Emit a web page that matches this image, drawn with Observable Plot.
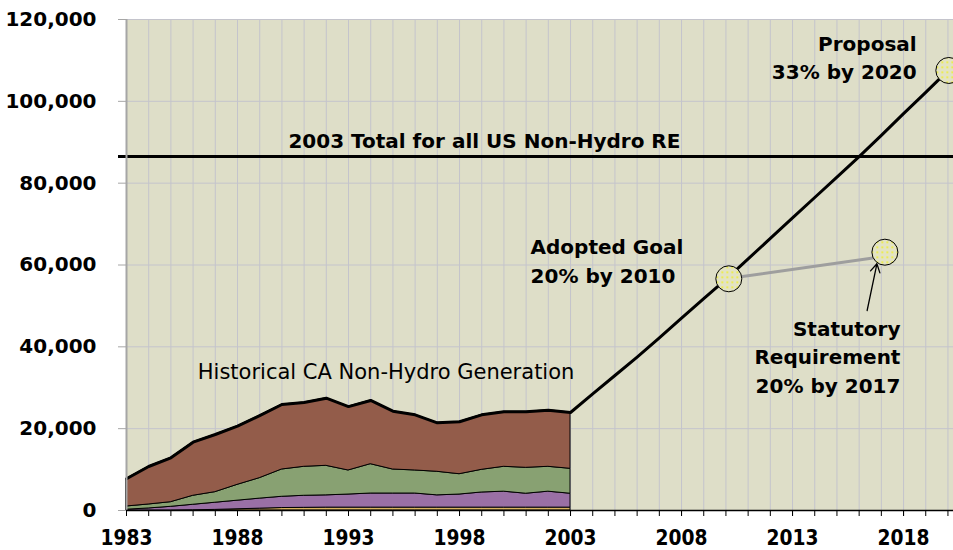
<!DOCTYPE html>
<html><head><meta charset="utf-8">
<script src="https://cdn.jsdelivr.net/npm/d3@7"></script>
<script src="https://cdn.jsdelivr.net/npm/@observablehq/plot@0.6"></script>
<style>
html,body{margin:0;padding:0;background:#fff;}
#chart{width:953px;height:550px;overflow:hidden;}
</style></head><body><div id="chart"></div>
<script>
// ---- Data (GWh) ----
const histYears = [1983,1984,1985,1986,1987,1988,1989,1990,1991,1992,1993,1994,1995,1996,1997,1998,1999,2000,2001,2002,2003];
const solar      = [0,0,0,50,150,300,450,600,650,700,700,700,700,700,700,700,700,700,700,700,700];
const wind       = [200,500,900,1350,1750,2100,2450,2750,2950,3000,3200,3450,3450,3450,3000,3200,3700,3900,3400,3900,3400];
const biomass    = [780,970,1130,2190,2580,3870,5000,6670,7080,7220,5880,7170,5870,5630,5760,4970,5540,6080,6330,6080,6090];
const geothermal = [6770,9280,10850,13110,14090,14330,15300,15880,15720,16530,15620,15580,14250,13600,11970,12810,13440,13440,13690,13840,13760];
const layerNames  = ["Solar","Wind","Biomass","Geothermal"];
const layerColors = ["#D9B35F","#9A70A5","#88A172","#935C4A"];

const projYears  = [2004,2005,2006,2007,2008,2009,2010,2011,2012,2013,2014,2015,2016,2017,2018,2019,2020];
const projValues = [28500,33000,37500,42200,47000,51800,56500,61500,66500,71500,76500,81500,86500,91700,97000,102200,107500];

const usTotal2003 = 86500;

const statutoryYears  = [2010.1, 2017.1];
const statutoryValues = [56700, 62100];

const targetYears  = [2010.13, 2017.16, 2020.04];
const targetValues = [56630, 63130, 107540];

const yTicks = [0,20000,40000,60000,80000,100000,120000];
const allYears = [1983,1984,1985,1986,1987,1988,1989,1990,1991,1992,1993,1994,1995,1996,1997,1998,1999,2000,2001,2002,2003,2004,2005,2006,2007,2008,2009,2010,2011,2012,2013,2014,2015,2016,2017,2018,2019,2020];
const xLabelYears = [1983,1988,1993,1998,2003,2008,2013,2018];

// annotations
const endLabels    = [
  {text: "Proposal\n33% by 2020", x: 2018.59, y: 111100},
  {text: "Statutory\nRequirement\n20% by 2017", x: 2017.86, y: 37980}
];
const middleLabels = [{text: "2003 Total for all US Non-Hydro RE", x: 1999.12, y: 90770}];
const startLabels  = [{text: "Adopted Goal\n20% by 2010", x: 2001.2, y: 61400}];
const plainLabels  = [{text: "Historical CA Non-Hydro Generation", x: 1986.21, y: 33830}];
const arrows = [{x1: 2016.36, y1: 48880, x2: 2016.8, y2: 60300}];

// ---- build tables ----
const layerSeries = [solar, wind, biomass, geothermal];
const stacked = [];
layerNames.forEach((name, i) => histYears.forEach((yr, j) => stacked.push({layer: name, year: yr, value: layerSeries[i][j]})));
const histTotal = histYears.map((yr, j) => ({year: yr, value: solar[j] + wind[j] + biomass[j] + geothermal[j]}));
const totalLine = histTotal.concat(projYears.map((yr, j) => ({year: yr, value: projValues[j]})));
const statutory = statutoryYears.map((yr, j) => ({year: yr, value: statutoryValues[j]}));
const targets = targetYears.map((yr, j) => ({year: yr, value: targetValues[j]}));

const boldText = {x: "x", y: "y", text: "text", fontSize: 20, fontWeight: "bold", fill: "black", lineHeight: 1.43, fontFamily: "DejaVu Sans"};

const chart = Plot.plot({
  width: 953, height: 550,
  marginLeft: 126, marginRight: 0, marginTop: 19, marginBottom: 40,
  style: {fontFamily: "DejaVu Sans", background: "white", color: "black"},
  x: {domain: [1983, 2020.25]},
  y: {domain: [0, 120000]},
  color: {domain: layerNames, range: layerColors},
  marks: [
    Plot.frame({fill: "#DEDEC8", stroke: "none"}),
    Plot.gridX(allYears, {stroke: "#C4C4CC", strokeOpacity: 1, strokeWidth: 1}),
    Plot.gridY(yTicks, {stroke: "#C4C4CC", strokeOpacity: 1, strokeWidth: 1}),
    Plot.areaY(stacked, Plot.stackY({x: "year", y: "value", z: "layer", fill: "layer", stroke: "black", strokeWidth: 1})),
    Plot.line(statutory, {x: "year", y: "value", stroke: "#9E9E9E", strokeWidth: 3}),
    Plot.line(totalLine, {x: "year", y: "value", stroke: "black", strokeWidth: 3}),
    Plot.ruleY([usTotal2003], {x1: 1982.64, x2: 2020.25, stroke: "black", strokeWidth: 3}),
    Plot.dot(targets, {x: "year", y: "value", r: 13, fill: "url(#dots)", stroke: "black", strokeWidth: 1}),
    Plot.arrow(arrows, {x1: "x1", y1: "y1", x2: "x2", y2: "y2", stroke: "black", strokeWidth: 1.3, headLength: 11}),
    Plot.text(endLabels, {...boldText, textAnchor: "end"}),
    Plot.text(middleLabels, {...boldText, textAnchor: "middle"}),
    Plot.text(startLabels, {...boldText, textAnchor: "start"}),
    Plot.text(plainLabels, {x: "x", y: "y", text: "text", textAnchor: "start", fontSize: 21, fill: "black", fontFamily: "DejaVu Sans"}),
    Plot.ruleX([1983], {y1: 0, y2: 120000, stroke: "#A6A6A6", strokeWidth: 2}),
    Plot.axisY(yTicks, {anchor: "left", tickSize: 8, tickPadding: 22, stroke: "#A6A6A6", fill: "black", fontSize: 20, fontWeight: "bold", fontFamily: "DejaVu Sans", tickFormat: d3.format(",")}),
    Plot.axisX(allYears, {anchor: "bottom", tickSize: 6, stroke: "black", tickFormat: () => ""}),
    Plot.axisX(xLabelYears, {anchor: "bottom", tickSize: 6, tickPadding: 13, stroke: "black", fill: "black", fontSize: 22, fontWeight: "bold", fontFamily: "DejaVu Sans Condensed", tickFormat: d => String(d)}),
    Plot.ruleY([0], {x1: 1983, x2: 2020.25, stroke: "black", strokeWidth: 1.5})
  ]
});

// match the narrow label width of the reference
chart.querySelectorAll('[aria-label="x-axis tick label"] text').forEach(t => {
  if (t.textContent.trim() !== "") { t.setAttribute("textLength", "52"); t.setAttribute("lengthAdjust", "spacingAndGlyphs"); }
});

// dotted yellow fill for the target circles
const ns = "http://www.w3.org/2000/svg";
const defs = document.createElementNS(ns, "defs");
defs.innerHTML = '<pattern id="dots" width="5" height="5" patternUnits="userSpaceOnUse"><rect width="5" height="5" fill="#E3E3C4"/><rect x="1" y="1" width="1.5" height="1.5" fill="#F2F200"/></pattern>';
chart.insertBefore(defs, chart.firstChild);
document.getElementById("chart").appendChild(chart);
</script>
</body></html>
